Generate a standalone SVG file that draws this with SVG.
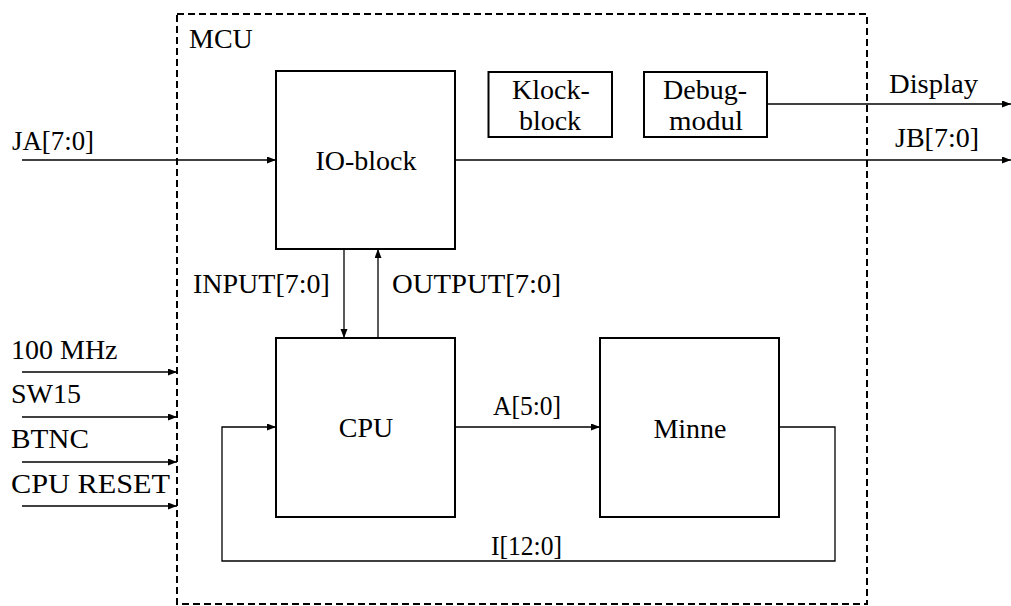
<svg xmlns="http://www.w3.org/2000/svg" width="1011" height="606" viewBox="0 0 1011 606">
<style>
text{font-family:"Liberation Serif","Times New Roman",serif;font-size:28px;fill:#000}
.c{text-anchor:middle}
.box{fill:#fff;stroke:#000;stroke-width:2}
.con{fill:none;stroke:#000;stroke-width:1.3}
.arr{marker-end:url(#ah)}
</style>
<defs>
<marker id="ah" markerUnits="userSpaceOnUse" markerWidth="10" markerHeight="8" refX="9" refY="3.5" orient="auto">
<path d="M0,0 L9,3.5 L0,7 z" fill="#000"/>
</marker>
</defs>
<rect id="background" x="0" y="0" width="1011" height="606" fill="#fff"/>
<g id="mcu">
<rect x="177" y="14" width="690" height="590" fill="none" stroke="#000" stroke-width="2" stroke-dasharray="7,4"/>
<text x="189" y="48">MCU</text>
</g>
<g id="connectors">
<path class="con arr" d="M22,160 H276"/>
<path class="con arr" d="M455,160 H1011"/>
<path class="con arr" d="M767,104 H1011"/>
<path class="con arr" d="M344,249 V338"/>
<path class="con arr" d="M378,338 V249"/>
<path class="con arr" d="M455,427 H600"/>
<path class="con arr" d="M779,427 H835 V561 H222 V427 H276"/>
<path class="con arr" d="M22,372 H177"/>
<path class="con arr" d="M22,417 H177"/>
<path class="con arr" d="M22,462 H177"/>
<path class="con arr" d="M22,506 H177"/>
</g>
<g id="labels">
<text x="12" y="150" textLength="82" lengthAdjust="spacingAndGlyphs">JA[7:0]</text>
<text x="895" y="147">JB[7:0]</text>
<text x="889" y="93" textLength="89" lengthAdjust="spacingAndGlyphs">Display</text>
<text x="193" y="293">INPUT[7:0]</text>
<text x="392" y="293" textLength="169" lengthAdjust="spacingAndGlyphs">OUTPUT[7:0]</text>
<text x="493" y="415" textLength="68" lengthAdjust="spacingAndGlyphs">A[5:0]</text>
<text x="491" y="555" textLength="71" lengthAdjust="spacingAndGlyphs">I[12:0]</text>
<text x="11" y="359">100 MHz</text>
<text x="11" y="403">SW15</text>
<text x="11" y="448" textLength="78" lengthAdjust="spacingAndGlyphs">BTNC</text>
<text x="11" y="493" textLength="159" lengthAdjust="spacingAndGlyphs">CPU RESET</text>
</g>
<g id="io-block">
<rect class="box" x="276" y="71" width="179" height="178"/>
<text class="c" x="366" y="170">IO-block</text>
</g>
<g id="klockblock">
<rect class="box" x="488.5" y="72" width="123.5" height="65"/>
<text class="c" x="551" y="99">Klock-</text>
<text class="c" x="550" y="130">block</text>
</g>
<g id="debugmodul">
<rect class="box" x="644" y="72" width="123" height="65"/>
<text class="c" x="705" y="99">Debug-</text>
<text class="c" x="706" y="130" textLength="74" lengthAdjust="spacingAndGlyphs">modul</text>
</g>
<g id="cpu">
<rect class="box" x="276" y="338" width="179" height="179"/>
<text class="c" x="366" y="437">CPU</text>
</g>
<g id="minne">
<rect class="box" x="600" y="338" width="179" height="179"/>
<text class="c" x="690" y="438">Minne</text>
</g>
</svg>
